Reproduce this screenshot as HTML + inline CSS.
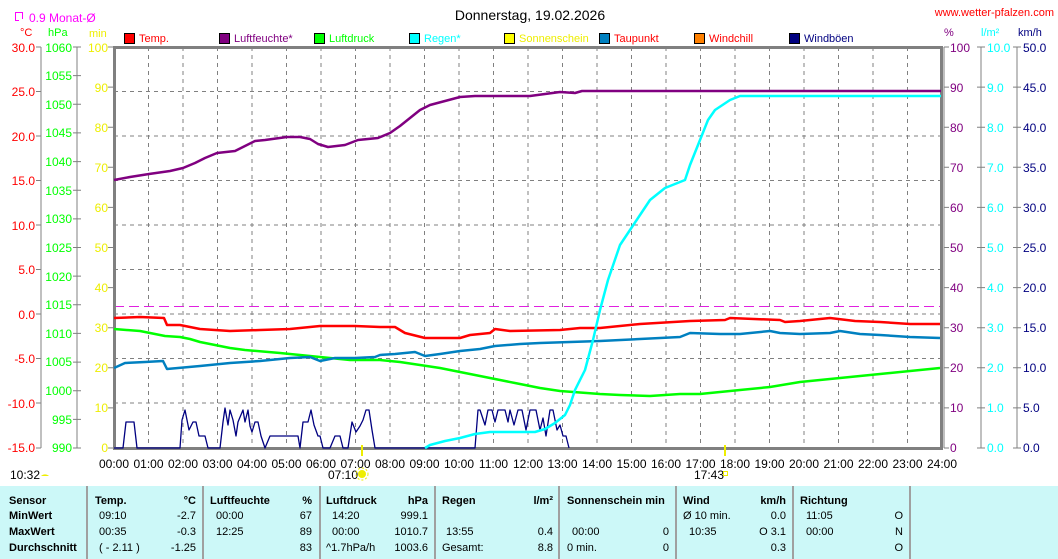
<!DOCTYPE html>
<html><head><meta charset="utf-8"><style>
html,body{margin:0;padding:0;background:#fff;}
svg{display:block;font-family:"Liberation Sans",sans-serif;}
</style></head><body>
<svg width="1058" height="559" viewBox="0 0 1058 559" xmlns="http://www.w3.org/2000/svg">
<rect width="1058" height="559" fill="#fff"/>
<text x="530" y="20" font-size="14" text-anchor="middle" fill="#000">Donnerstag, 19.02.2026</text>
<text x="1054" y="16" font-size="11" text-anchor="end" fill="#f00">www.wetter-pfalzen.com</text>
<rect x="15.5" y="12.5" width="7" height="8" fill="none" stroke="#f0f" stroke-width="1"/>
<rect x="19" y="19" width="5" height="3" fill="#fff"/>
<text x="29" y="22" font-size="12" fill="#f0f">0.9 Monat-Ø</text>
<g font-size="11">
<text x="20" y="36" fill="#f00">°C</text>
<text x="48" y="36" fill="#0f0">hPa</text>
<text x="89" y="37" fill="#ee0">min</text>
<text x="944" y="36" fill="#800080">%</text>
<text x="981" y="36" fill="#0ff">l/m²</text>
<text x="1018" y="36" fill="#000080">km/h</text>
</g>
<!-- legend -->
<g font-size="11">
<rect x="124.5" y="33.5" width="10" height="10" fill="#f00" stroke="#000"/><text x="139" y="42" fill="#f00">Temp.</text>
<rect x="219.5" y="33.5" width="10" height="10" fill="#800080" stroke="#000"/><text x="234" y="42" fill="#800080">Luftfeuchte*</text>
<rect x="314.5" y="33.5" width="10" height="10" fill="#0f0" stroke="#000"/><text x="329" y="42" fill="#0f0">Luftdruck</text>
<rect x="409.5" y="33.5" width="10" height="10" fill="#0ff" stroke="#000"/><text x="424" y="42" fill="#0ff">Regen*</text>
<rect x="504.5" y="33.5" width="10" height="10" fill="#ff0" stroke="#000"/><text x="519" y="42" fill="#ee0">Sonnenschein</text>
<rect x="599.5" y="33.5" width="10" height="10" fill="#0080c0" stroke="#000"/><text x="614" y="42" fill="#f00">Taupunkt</text>
<rect x="694.5" y="33.5" width="10" height="10" fill="#ff8000" stroke="#000"/><text x="709" y="42" fill="#f00">Windchill</text>
<rect x="789.5" y="33.5" width="10" height="10" fill="#000080" stroke="#000"/><text x="804" y="42" fill="#000080">Windböen</text>
</g>
<!-- grid -->
<g stroke="#808080" stroke-dasharray="4,4" stroke-width="1">
<line x1="148.5" y1="47" x2="148.5" y2="448"/><line x1="183" y1="47" x2="183" y2="448"/><line x1="217.5" y1="47" x2="217.5" y2="448"/><line x1="252" y1="47" x2="252" y2="448"/><line x1="286.5" y1="47" x2="286.5" y2="448"/><line x1="321" y1="47" x2="321" y2="448"/><line x1="355.5" y1="47" x2="355.5" y2="448"/><line x1="390" y1="47" x2="390" y2="448"/><line x1="424.5" y1="47" x2="424.5" y2="448"/><line x1="459" y1="47" x2="459" y2="448"/><line x1="493.5" y1="47" x2="493.5" y2="448"/><line x1="528" y1="47" x2="528" y2="448"/><line x1="562.5" y1="47" x2="562.5" y2="448"/><line x1="597" y1="47" x2="597" y2="448"/><line x1="631.5" y1="47" x2="631.5" y2="448"/><line x1="666" y1="47" x2="666" y2="448"/><line x1="700.5" y1="47" x2="700.5" y2="448"/><line x1="735" y1="47" x2="735" y2="448"/><line x1="769.5" y1="47" x2="769.5" y2="448"/><line x1="804" y1="47" x2="804" y2="448"/><line x1="838.5" y1="47" x2="838.5" y2="448"/><line x1="873" y1="47" x2="873" y2="448"/><line x1="907.5" y1="47" x2="907.5" y2="448"/>
<line x1="114" y1="91.5" x2="941" y2="91.5"/><line x1="114" y1="136" x2="941" y2="136"/><line x1="114" y1="180.5" x2="941" y2="180.5"/><line x1="114" y1="225" x2="941" y2="225"/><line x1="114" y1="269.5" x2="941" y2="269.5"/><line x1="114" y1="314" x2="941" y2="314"/><line x1="114" y1="358.5" x2="941" y2="358.5"/><line x1="114" y1="403" x2="941" y2="403"/>
</g>
<line x1="114" y1="306.5" x2="941" y2="306.5" stroke="#e020e0" stroke-dasharray="10,5"/>
<!-- axes -->
<g stroke="#808080" fill="none">
<line x1="41" y1="47" x2="41" y2="448"/><line x1="77" y1="47" x2="77" y2="448"/>
<line x1="981" y1="47" x2="981" y2="448"/><line x1="1017" y1="47" x2="1017" y2="448"/>
<rect x="114.5" y="47.5" width="827" height="401" stroke-width="3"/>
<line x1="944" y1="47" x2="944" y2="448" stroke-width="1"/>
</g>
<g stroke="#808080">
<path d="M36 47h5M36 91.5h5M36 136h5M36 180.5h5M36 225h5M36 269.5h5M36 314h5M36 358.5h5M36 403h5M36 448h5"/>
<path d="M73 47h8M73 75.6h8M73 104.3h8M73 132.9h8M73 161.6h8M73 190.2h8M73 218.9h8M73 247.5h8M73 276.1h8M73 304.8h8M73 333.4h8M73 362.1h8M73 390.7h8M73 419.4h8M73 448h8"/>
<path d="M108 47h6M108 87.1h6M108 127.2h6M108 167.3h6M108 207.4h6M108 247.5h6M108 287.6h6M108 327.7h6M108 367.8h6M108 407.9h6M108 448h6"/>
<path d="M944 47h5M944 87.1h5M944 127.2h5M944 167.3h5M944 207.4h5M944 247.5h5M944 287.6h5M944 327.7h5M944 367.8h5M944 407.9h5M944 448h5"/>
<path d="M977 47h8M977 87.1h8M977 127.2h8M977 167.3h8M977 207.4h8M977 247.5h8M977 287.6h8M977 327.7h8M977 367.8h8M977 407.9h8M977 448h8"/>
<path d="M1013 47h8M1013 87.1h8M1013 127.2h8M1013 167.3h8M1013 207.4h8M1013 247.5h8M1013 287.6h8M1013 327.7h8M1013 367.8h8M1013 407.9h8M1013 448h8"/>
</g>
<g font-size="12" text-anchor="end" fill="#f00">
<text x="35" y="52">30.0</text><text x="35" y="96">25.0</text><text x="35" y="141">20.0</text><text x="35" y="185">15.0</text><text x="35" y="230">10.0</text><text x="35" y="274">5.0</text><text x="35" y="319">0.0</text><text x="35" y="363">-5.0</text><text x="35" y="408">-10.0</text><text x="35" y="452">-15.0</text>
</g>
<g font-size="12" text-anchor="end" fill="#0f0">
<text x="72" y="52">1060</text><text x="72" y="80">1055</text><text x="72" y="109">1050</text><text x="72" y="137">1045</text><text x="72" y="166">1040</text><text x="72" y="195">1035</text><text x="72" y="223">1030</text><text x="72" y="252">1025</text><text x="72" y="281">1020</text><text x="72" y="309">1015</text><text x="72" y="338">1010</text><text x="72" y="366">1005</text><text x="72" y="395">1000</text><text x="72" y="424">995</text><text x="72" y="452">990</text>
</g>
<g font-size="12" text-anchor="end" fill="#ee0">
<text x="108" y="52">100</text><text x="108" y="92">90</text><text x="108" y="132">80</text><text x="108" y="172">70</text><text x="108" y="212">60</text><text x="108" y="252">50</text><text x="108" y="292">40</text><text x="108" y="332">30</text><text x="108" y="372">20</text><text x="108" y="412">10</text><text x="108" y="452">0</text>
</g>
<g font-size="12" fill="#800080">
<text x="950" y="52">100</text><text x="950" y="92">90</text><text x="950" y="132">80</text><text x="950" y="172">70</text><text x="950" y="212">60</text><text x="950" y="252">50</text><text x="950" y="292">40</text><text x="950" y="332">30</text><text x="950" y="372">20</text><text x="950" y="412">10</text><text x="950" y="452">0</text>
</g>
<g font-size="12" fill="#0ff">
<text x="987" y="52">10.0</text><text x="987" y="92">9.0</text><text x="987" y="132">8.0</text><text x="987" y="172">7.0</text><text x="987" y="212">6.0</text><text x="987" y="252">5.0</text><text x="987" y="292">4.0</text><text x="987" y="332">3.0</text><text x="987" y="372">2.0</text><text x="987" y="412">1.0</text><text x="987" y="452">0.0</text>
</g>
<g font-size="12" fill="#000080">
<text x="1023" y="52">50.0</text><text x="1023" y="92">45.0</text><text x="1023" y="132">40.0</text><text x="1023" y="172">35.0</text><text x="1023" y="212">30.0</text><text x="1023" y="252">25.0</text><text x="1023" y="292">20.0</text><text x="1023" y="332">15.0</text><text x="1023" y="372">10.0</text><text x="1023" y="412">5.0</text><text x="1023" y="452">0.0</text>
</g>
<!-- data -->
<g fill="none" stroke-linejoin="round">
<polyline stroke="#000080" stroke-width="1.3" points="114,448 123,448 126,422 134,422 137,448 180,448 182,420 185,410 187,420 189,430 193,422 196,422 199,436 205,436 208,448 220,448 223,422 225,408 228,425 230,410 233,420 236,436 238,422 243,410 245,422 248,410 250,426 252,432 255,422 258,422 261,436 265,448 270,436 298,436 300,448 303,422 308,422 311,410 314,425 318,436 320,436 323,448 330,448 335,436 340,436 343,448 348,448 352,422 356,432 360,426 363,420 366,410 369,410 372,430 375,448 475,448 478,410 480,410 485,425 488,410 492,410 495,422 498,410 505,410 508,422 510,410 514,425 518,410 522,410 526,430 530,410 536,410 540,430 543,418 546,436 550,410 553,410 557,430 560,425 563,436 566,436 569,448"/>
<polyline stroke="#0f0" stroke-width="2.5" points="114,329 140,331 150,333 165,336 180,337 190,339 200,342 215,345 230,348 245,350 280,353 300,355 330,358 350,360 380,360 400,362 420,365 440,368 460,372 480,376 500,380 520,384 540,388 560,391 600,394 620,395 650,396 680,394 700,394 740,390 770,387 800,382 840,378 880,374 910,371 940,368"/>
<polyline stroke="#0080c0" stroke-width="2.5" points="114,368 125,363 145,362 163,361 167,369 200,366 230,363 260,361 290,358 310,357 320,361 335,358 355,358 375,357 380,355 395,354 415,352 425,356 440,354 460,351 480,349 495,346 520,344 540,343 570,342 600,341 640,339 680,337 690,333 720,334 740,334 770,331 780,333 800,334 830,333 840,331 860,334 880,335 910,337 940,338"/>
<polyline stroke="#f00" stroke-width="2.5" points="114,318 140,317 164,318 167,325 180,325 200,329 230,331 260,330 290,329 320,326 355,326 380,327 395,327 405,333 425,338 460,338 470,335 490,333 495,329 510,331 560,330 580,328 600,328 640,324 690,321 725,320 730,318 780,320 785,322 800,321 830,318 855,321 880,322 910,324 940,324"/>
<polyline stroke="#800080" stroke-width="2.5" points="114,180 130,177 149,174 170,171 183,168 195,163 205,158 217,153 235,151 245,146 255,141 265,140 287,137 300,137 310,139 318,144 328,147 345,145 358,140 378,138 390,133 400,126 410,118 420,110 430,105 445,101 460,97 475,96 530,96 545,94 560,92 575,93 582,91 941,91"/>
<polyline stroke="#0ff" stroke-width="2.5" points="425,448 430,445 445,441 460,438 475,434 490,432 535,432 545,429 555,423 565,415 570,405 575,390 585,370 593,340 600,310 608,280 620,245 630,230 640,215 650,200 665,188 685,180 690,165 700,140 708,120 715,110 730,100 740,96 941,96"/>
</g>
<line x1="362" y1="445" x2="362" y2="456" stroke="#ee0" stroke-width="2"/>
<line x1="725" y1="445" x2="725" y2="456" stroke="#ee0" stroke-width="2"/>
<!-- x labels -->
<g font-size="12" text-anchor="middle" fill="#000">
<text x="114" y="468">00:00</text><text x="148.5" y="468">01:00</text><text x="183" y="468">02:00</text><text x="217.5" y="468">03:00</text><text x="252" y="468">04:00</text><text x="286.5" y="468">05:00</text><text x="321" y="468">06:00</text><text x="355.5" y="468">07:00</text><text x="390" y="468">08:00</text><text x="424.5" y="468">09:00</text><text x="459" y="468">10:00</text><text x="493.5" y="468">11:00</text><text x="528" y="468">12:00</text><text x="562.5" y="468">13:00</text><text x="597" y="468">14:00</text><text x="631.5" y="468">15:00</text><text x="666" y="468">16:00</text><text x="700.5" y="468">17:00</text><text x="735" y="468">18:00</text><text x="769.5" y="468">19:00</text><text x="804" y="468">20:00</text><text x="838.5" y="468">21:00</text><text x="873" y="468">22:00</text><text x="907.5" y="468">23:00</text><text x="942" y="468">24:00</text>
</g>
<g font-size="12" fill="#000">
<text x="10" y="479">10:32</text><text x="328" y="479">07:10</text><text x="694" y="479">17:43</text>
</g>
<path d="M41 476 a5 4 0 0 1 8 0z" fill="#ee0"/>
<circle cx="362" cy="474" r="4" fill="#ee0"/><circle cx="362" cy="474" r="6" fill="none" stroke="#ee0" stroke-dasharray="2,2"/>
<rect x="723.5" y="471.5" width="4" height="4" fill="none" stroke="#ee0"/>
<!-- table -->
<rect x="0" y="486" width="1058" height="73" fill="#ccf8f8"/>
<g stroke="#a0a0a0" stroke-width="2">
<line x1="87" y1="486" x2="87" y2="559"/><line x1="203" y1="486" x2="203" y2="559"/><line x1="320" y1="486" x2="320" y2="559"/><line x1="435" y1="486" x2="435" y2="559"/><line x1="559" y1="486" x2="559" y2="559"/><line x1="676" y1="486" x2="676" y2="559"/><line x1="793" y1="486" x2="793" y2="559"/><line x1="910" y1="486" x2="910" y2="559"/>
</g>
<g font-size="11" font-weight="bold" fill="#000">
<text x="9" y="504">Sensor</text><text x="9" y="519">MinWert</text><text x="9" y="535">MaxWert</text><text x="9" y="551">Durchschnitt</text>
<text x="95" y="504">Temp.</text><text x="196" y="504" text-anchor="end">°C</text>
<text x="210" y="504">Luftfeuchte</text><text x="312" y="504" text-anchor="end">%</text>
<text x="326" y="504">Luftdruck</text><text x="428" y="504" text-anchor="end">hPa</text>
<text x="442" y="504">Regen</text><text x="553" y="504" text-anchor="end">l/m²</text>
<text x="567" y="504">Sonnenschein min</text>
<text x="683" y="504">Wind</text><text x="786" y="504" text-anchor="end">km/h</text>
<text x="800" y="504">Richtung</text>
</g>
<g font-size="11" fill="#000">
<text x="99" y="519">09:10</text><text x="196" y="519" text-anchor="end">-2.7</text>
<text x="216" y="519">00:00</text><text x="312" y="519" text-anchor="end">67</text>
<text x="332" y="519">14:20</text><text x="428" y="519" text-anchor="end">999.1</text>
<text x="683" y="519">Ø 10 min.</text><text x="786" y="519" text-anchor="end">0.0</text>
<text x="806" y="519">11:05</text><text x="903" y="519" text-anchor="end">O</text>
<text x="99" y="535">00:35</text><text x="196" y="535" text-anchor="end">-0.3</text>
<text x="216" y="535">12:25</text><text x="312" y="535" text-anchor="end">89</text>
<text x="332" y="535">00:00</text><text x="428" y="535" text-anchor="end">1010.7</text>
<text x="446" y="535">13:55</text><text x="553" y="535" text-anchor="end">0.4</text>
<text x="572" y="535">00:00</text><text x="669" y="535" text-anchor="end">0</text>
<text x="689" y="535">10:35</text><text x="786" y="535" text-anchor="end">O 3.1</text>
<text x="806" y="535">00:00</text><text x="903" y="535" text-anchor="end">N</text>
<text x="99" y="551">( - 2.11 )</text><text x="196" y="551" text-anchor="end">-1.25</text>
<text x="312" y="551" text-anchor="end">83</text>
<text x="326" y="551">^1.7hPa/h</text><text x="428" y="551" text-anchor="end">1003.6</text>
<text x="442" y="551">Gesamt:</text><text x="553" y="551" text-anchor="end">8.8</text>
<text x="567" y="551">0 min.</text><text x="669" y="551" text-anchor="end">0</text>
<text x="786" y="551" text-anchor="end">0.3</text>
<text x="903" y="551" text-anchor="end">O</text>
</g>
</svg>
</body></html>
